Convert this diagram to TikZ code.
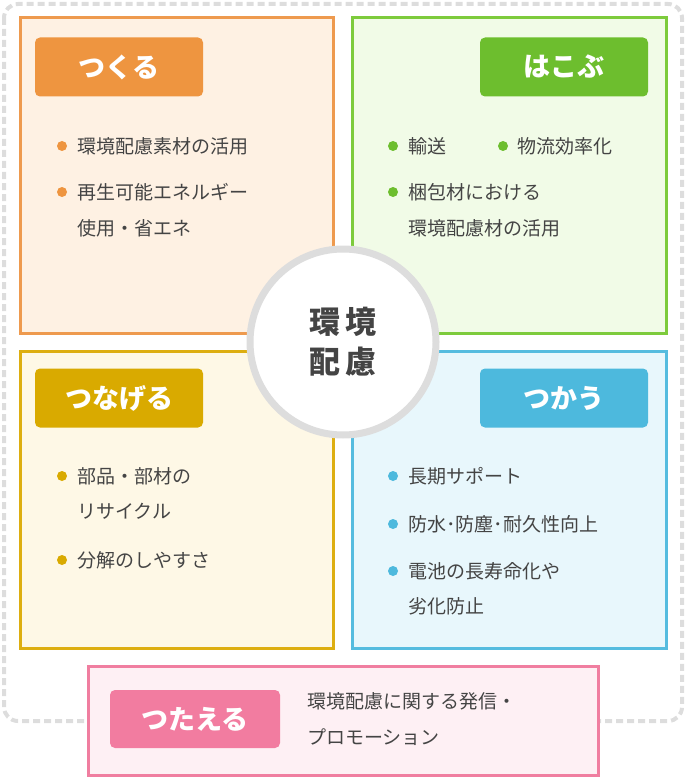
\documentclass[tikz,border=0pt]{standalone}
\usepackage{fontspec}
\setmainfont{Noto Sans CJK JP}
\newfontfamily\jpb{Noto Sans CJK JP Bold}
\definecolor{txt}{HTML}{444444}
\definecolor{oB}{HTML}{EE9A4E}\definecolor{oF}{HTML}{FEF1E3}\definecolor{oL}{HTML}{EE9540}
\definecolor{gB}{HTML}{7DCB3C}\definecolor{gF}{HTML}{F1FBE7}\definecolor{gL}{HTML}{6DBE2E}
\definecolor{yB}{HTML}{DDAE10}\definecolor{yF}{HTML}{FEF8E6}\definecolor{yL}{HTML}{D9AA00}
\definecolor{bB}{HTML}{55BCDF}\definecolor{bF}{HTML}{E8F7FC}\definecolor{bL}{HTML}{4DB9DD}
\definecolor{pB}{HTML}{F07EA0}\definecolor{pF}{HTML}{FEF0F4}\definecolor{pL}{HTML}{F27CA0}
\definecolor{lg}{HTML}{DDDDDD}
\tikzset{
 quad/.style={line width=3pt},
 lab/.style={rounded corners=5pt,minimum width=168pt,minimum height=59pt,text=white,font=\fontsize{27}{30}\selectfont\bfseries,inner sep=0pt},
 item/.style={anchor=west,text=txt,font=\fontsize{19}{25}\selectfont,inner sep=0pt},
}
\begin{document}
\begin{tikzpicture}[x=1pt,y=-1pt]
\useasboundingbox (0,0) rectangle (686,778);
\draw[lg,line width=4pt,dash pattern=on 7pt off 4pt,rounded corners=14pt] (4,4) rectangle (682,721);
\draw[quad,draw=oB,fill=oF] (20,18) rectangle (333,333);
\draw[quad,draw=gB,fill=gF] (352,18) rectangle (666,333);
\draw[quad,draw=yB,fill=yF] (20,351) rectangle (333,648);
\draw[quad,draw=bB,fill=bF] (352,351) rectangle (666,648);
\node[circle,draw=lg,line width=7pt,fill=white,minimum size=186pt] (c) at (343,342) {};
\node[text=txt,font=\fontsize{31}{40}\selectfont\bfseries,align=center] at (c) {環\,境\\配\,慮};
\node[lab,fill=oL] (l1) at (119,67) {つくる};
\node[lab,fill=gL] (l2) at (564,67) {はこぶ};
\node[lab,fill=yL] (l3) at (119,398) {つなげる};
\node[lab,fill=bL] (l4) at (564,398) {つかう};
% TL
\foreach \y in {146,192} \fill[oL] (62,\y) circle (5pt);
\node[item] at (77,146) {環境配慮素材の活用};
\node[item] at (77,192) {再生可能エネルギー};
\node[item] at (77,228) {使用・省エネ};
% TR
\foreach \x/\y in {393/146,503/146,393/192} \fill[gL] (\x,\y) circle (5pt);
\node[item] at (408,146) {輸送};
\node[item] at (517,146) {物流効率化};
\node[item] at (408,192) {梱包材における};
\node[item] at (408,228) {環境配慮材の活用};
% BL
\foreach \y in {476,560} \fill[yL] (62,\y) circle (5pt);
\node[item] at (77,476) {部品・部材の};
\node[item] at (77,511) {リサイクル};
\node[item] at (77,560) {分解のしやすさ};
% BR
\foreach \y in {476,524,571} \fill[bL] (393,\y) circle (5pt);
\node[item] at (408,476) {長期サポート};
\node[item] at (408,524) {防水･防塵･耐久性向上};
\node[item] at (408,571) {電池の長寿命化や};
\node[item] at (408,606) {劣化防止};
% bottom
\draw[quad,draw=pB,fill=pF] (88,666) rectangle (598,775);
\node[lab,fill=pL,minimum width=170pt,minimum height=58pt] (l5) at (195,719) {つたえる};
\node[item] at (307,701) {環境配慮に関する発信・};
\node[item] at (307,737) {プロモーション};
\end{tikzpicture}
\end{document}
